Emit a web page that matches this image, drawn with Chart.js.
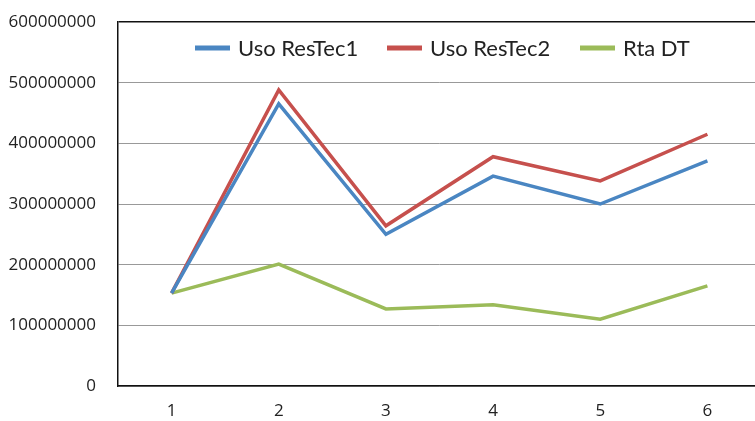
<!DOCTYPE html>
<html>
<head>
<meta charset="utf-8">
<script src="https://cdn.jsdelivr.net/npm/chart.js@4.4.1/dist/chart.umd.min.js"></script>
<style>
  html, body { margin: 0; padding: 0; background: #fff; overflow: hidden; }
  #wrap { width: 755px; height: 421px; overflow: hidden; }
  #box { width: 761px; height: 421px; }
</style>
</head>
<body>
<div id="wrap"><div id="box"><canvas id="myChart"></canvas></div></div>
<script>
var labels = ['1', '2', '3', '4', '5', '6']
var uso_restec1 = [153000000, 465000000, 250000000, 346000000, 300000000, 371000000]
var uso_restec2 = [153000000, 488000000, 264000000, 378000000, 338000000, 415000000]
var rta_dt = [153000000, 201000000, 127000000, 134000000, 110000000, 165000000]

// legend drawn inside the plot area, like the original
var innerLegend = {
  id: 'innerLegend',
  afterDraw: function (chart) {
    var ctx = chart.ctx
    var xs = [195, 387, 580]
    var y = 48
    ctx.save()
    ctx.font = '22px Lato'
    ctx.textBaseline = 'middle'
    chart.data.datasets.forEach(function (ds, i) {
      ctx.strokeStyle = ds.borderColor
      ctx.lineWidth = 5
      ctx.beginPath()
      ctx.moveTo(xs[i], y)
      ctx.lineTo(xs[i] + 35, y)
      ctx.stroke()
      ctx.fillStyle = '#222'
      ctx.fillText(ds.label, xs[i] + 43, y + 1)
    })
    ctx.restore()
  }
}

var ctx = document.getElementById('myChart').getContext('2d');
var myChart = new Chart(ctx, {
  type: 'line',
  data: {
    labels: labels,
    datasets: [{
      label: 'Uso ResTec1',
      data: uso_restec1,
      borderColor: '#4A86C2',
      borderWidth: 3.5,
      pointRadius: 0,
      tension: 0
    }, {
      label: 'Uso ResTec2',
      data: uso_restec2,
      borderColor: '#C6504D',
      borderWidth: 3.5,
      pointRadius: 0,
      tension: 0
    }, {
      label: 'Rta DT',
      data: rta_dt,
      borderColor: '#9BBB59',
      borderWidth: 3.5,
      pointRadius: 0,
      tension: 0
    }]
  },
  options: {
    responsive: true,
    maintainAspectRatio: false,
    animation: false,
    layout: {
      padding: { left: 0, top: 22, right: 0, bottom: 0 }
    },
    plugins: {
      legend: { display: false },
      tooltip: { enabled: false }
    },
    scales: {
      x: {
        offset: true,
        grid: { display: false, drawTicks: false },
        border: { display: true, color: '#111', width: 1.5 },
        ticks: { color: '#222', padding: 15, font: { family: 'Open Sans', size: 17 } },
        afterFit: function (s) { s.height = 35 }
      },
      y: {
        min: 0,
        max: 600000000,
        grid: {
          drawTicks: false,
          color: function (c) { return c.tick.value === 600000000 ? '#111' : '#999' },
          lineWidth: function (c) { return c.tick.value === 600000000 ? 1.5 : 1 }
        },
        border: { display: true, color: '#111', width: 1.5 },
        ticks: {
          stepSize: 100000000,
          color: '#222',
          padding: 22,
          font: { family: 'Open Sans', size: 17 },
          callback: function (v) { return String(v) }
        },
        afterFit: function (s) {
          s.width = 118
          s.paddingTop = 0
          s.paddingBottom = 0
        }
      }
    }
  },
  plugins: [innerLegend]
})
</script>
</body>
</html>
